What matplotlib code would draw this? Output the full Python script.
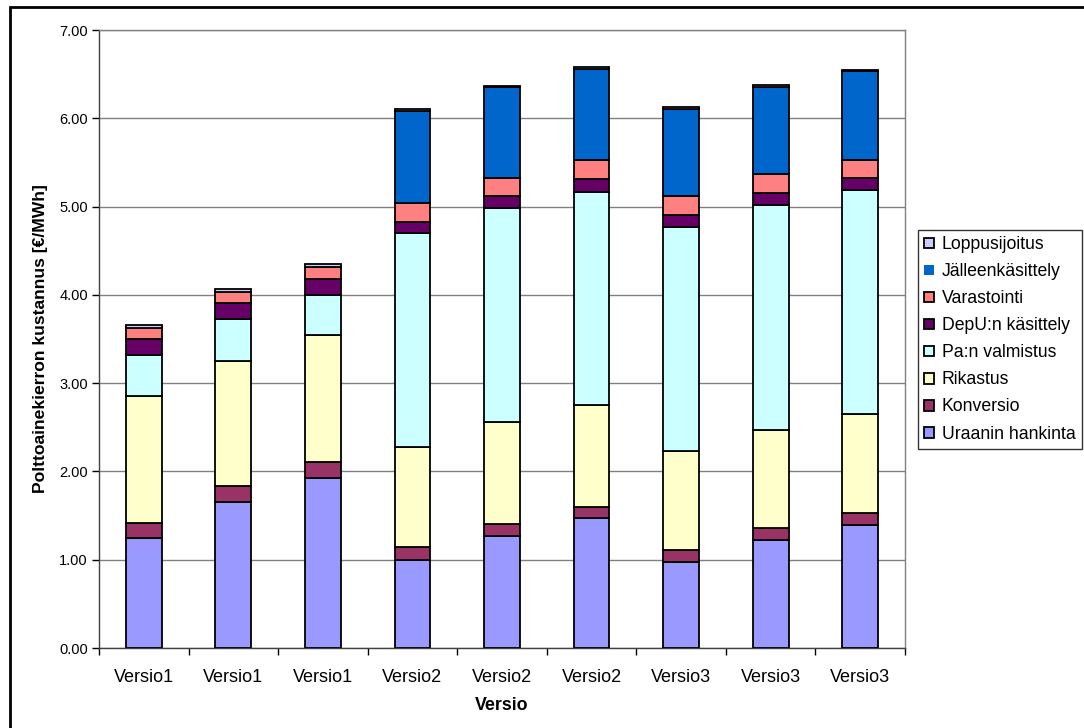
import matplotlib
matplotlib.use("Agg")
import matplotlib.pyplot as plt
import numpy as np
from matplotlib.patches import Rectangle

plt.rcParams['font.family'] = ['Liberation Sans', 'DejaVu Sans']

categories = ['Versio1', 'Versio1', 'Versio1', 'Versio2', 'Versio2', 'Versio2',
              'Versio3', 'Versio3', 'Versio3']
series_names = ['Uraanin hankinta', 'Konversio', 'Rikastus', 'Pa:n valmistus',
                'DepU:n käsittely', 'Varastointi', 'Jälleenkäsittely', 'Loppusijoitus']
uraani = [1.25, 1.65, 1.93, 1.00, 1.27, 1.47, 0.97, 1.22, 1.39]
konversio = [0.17, 0.18, 0.18, 0.14, 0.14, 0.13, 0.14, 0.14, 0.14]
rikastus = [1.43, 1.42, 1.43, 1.14, 1.15, 1.15, 1.12, 1.11, 1.12]
pa_valmistus = [0.47, 0.48, 0.46, 2.42, 2.42, 2.42, 2.54, 2.55, 2.54]
depu = [0.18, 0.18, 0.18, 0.13, 0.14, 0.14, 0.14, 0.13, 0.13]
varastointi = [0.12, 0.12, 0.13, 0.21, 0.20, 0.22, 0.21, 0.22, 0.21]
jalleen = [0.0, 0.0, 0.0, 1.04, 1.03, 1.03, 0.99, 0.99, 1.00]
loppu = [0.04, 0.04, 0.04, 0.02, 0.02, 0.02, 0.02, 0.02, 0.02]
colors = ['#9999FF', '#993366', '#FFFFCC', '#CCFFFF', '#660066', '#FF8080', '#0066CC', '#CCCCFF']

series = [uraani, konversio, rikastus, pa_valmistus, depu, varastointi, jalleen, loppu]

W, H = 1084, 728
fig = plt.figure(figsize=(W / 100, H / 100), dpi=100)
ax = fig.add_axes([99 / W, (H - 648) / H, (905 - 99) / W, (648 - 30) / H])

x = np.arange(len(categories))
bottom = np.zeros(len(categories))
handles = []
for name, vals, col in zip(series_names, series, colors):
    v = np.array(vals)
    lw = [1.3 if val > 0 else 0 for val in v]
    b = ax.bar(x, v, width=0.4, bottom=bottom, color=col, edgecolor='black',
               linewidth=lw, label=name, zorder=3)
    handles.append(b)
    bottom += v

ax.set_xlim(-0.5, len(categories) - 0.5)
ax.set_ylim(0, 7)
ax.set_yticks(np.arange(0, 7.01, 1.0))
ax.set_yticklabels([f"{t:.2f}" for t in np.arange(0, 7.01, 1.0)], fontsize=10.5)
ax.set_xticks(x)
ax.set_xticklabels(categories, fontsize=13)
ax.set_xticks(np.arange(-0.5, len(categories), 1.0), minor=True)
ax.tick_params(axis='x', which='major', length=0, pad=15)
ax.tick_params(axis='x', which='minor', length=5, width=1, color='black', direction='out')
ax.tick_params(axis='y', which='major', length=5, width=1, color='black', direction='out', pad=3)

ax.grid(axis='y', color='#808080', linewidth=1, zorder=0)
ax.set_axisbelow(True)
for s in ['top', 'right']:
    ax.spines[s].set_color('#808080')
    ax.spines[s].set_linewidth(1)
ax.spines['left'].set_color('#404040')
ax.spines['bottom'].set_color('#404040')
ax.spines['left'].set_linewidth(1)
ax.spines['bottom'].set_linewidth(1)

ax.set_ylabel('Polttoainekierron kustannus [€/MWh]', fontsize=12.6, fontweight='bold')
ax.yaxis.set_label_coords((48 - 99) / (905 - 99), 0.5)
ax.set_xlabel('Versio', fontsize=12.8, fontweight='bold')
ax.xaxis.set_label_coords(0.5, -(697 - 648) / (648 - 30))

leg = fig.legend(handles[::-1], series_names[::-1], loc='upper left',
                 bbox_to_anchor=(918 / W, 1 - 230 / H), fontsize=12.7,
                 frameon=True, fancybox=False, shadow=False,
                 handlelength=0.55, handleheight=0.55, handletextpad=0.45,
                 labelspacing=0.57, borderpad=0.35, borderaxespad=0)
leg.get_frame().set_edgecolor('black')
leg.get_frame().set_linewidth(1)

fig.patches.append(Rectangle((10 / W, -0.1), 1.2, 1.1 - 7 / H,
                             transform=fig.transFigure, fill=False,
                             edgecolor='black', linewidth=2))

fig.savefig('out.png', dpi=100)
